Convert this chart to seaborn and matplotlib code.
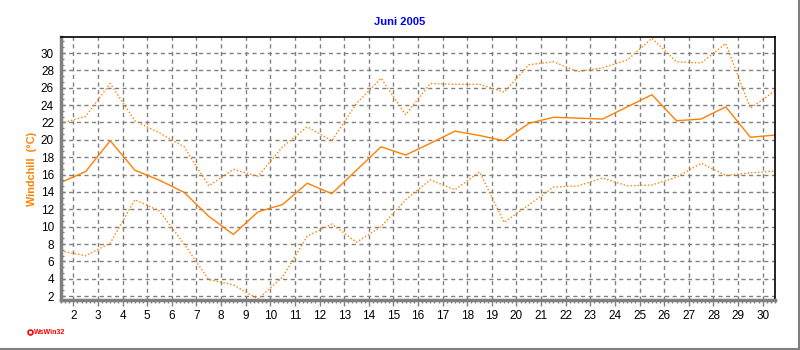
import matplotlib
matplotlib.use("Agg")
import matplotlib.pyplot as plt
import seaborn as sns
import pandas as pd
import numpy as np
from matplotlib.ticker import MultipleLocator, FixedLocator

days = list(range(1, 31))
temp_max = [21.9, 22.7, 26.5, 22.2, 20.8, 19.2, 14.7, 16.6, 15.8, 19.2,
            21.5, 19.9, 24.2, 27.1, 22.9, 26.5, 26.4, 26.4, 25.5, 28.65,
            29.0, 27.85, 28.3, 29.2, 31.7, 29.0, 28.85, 31.1, 23.65, 25.65]
temp_avg = [15.1, 16.35, 19.9, 16.5, 15.35, 13.95, 11.2, 9.1, 11.7, 12.55,
            15.0, 13.8, 16.5, 19.2, 18.25, 19.6, 21.0, 20.5, 19.9, 21.9,
            22.6, 22.5, 22.4, 23.8, 25.2, 22.2, 22.4, 23.8, 20.3, 20.55]
temp_min = [7.2, 6.65, 8.1, 13.1, 11.8, 8.0, 3.9, 3.3, 1.65, 4.2,
            8.9, 10.3, 8.2, 10.0, 13.1, 15.4, 14.25, 16.3, 10.5, 12.5,
            14.55, 14.7, 15.6, 14.7, 14.8, 15.7, 17.3, 15.9, 16.2, 16.4]
x_labels = list(range(2, 31))
y_labels = list(range(2, 31, 2))

sns.set_theme(style="white")
plt.rcParams['font.family'] = ['Liberation Sans', 'DejaVu Sans']

pos = [d + 0.5 for d in days]
df = pd.DataFrame({
    "pos": pos * 3,
    "value": temp_max + temp_avg + temp_min,
    "series": ["max"] * 30 + ["avg"] * 30 + ["min"] * 30,
})

fig = plt.figure(figsize=(8, 3.5), dpi=100)
ax = fig.add_axes([61/800, 1 - 300/350, (775 - 61)/800, (300 - 37)/350])

orange = "#FF8000"
sns.lineplot(data=df[df.series == "max"], x="pos", y="value", ax=ax,
             color=orange, lw=1.0, linestyle=(0, (1, 1.5)))
sns.lineplot(data=df[df.series == "avg"], x="pos", y="value", ax=ax,
             color=orange, lw=1.0)
sns.lineplot(data=df[df.series == "min"], x="pos", y="value", ax=ax,
             color=orange, lw=1.0, linestyle=(0, (1, 1.5)))

ax.set_xlim(1.5, 30.5)
ax.set_ylim(1.55, 31.85)
ax.xaxis.set_major_locator(FixedLocator(x_labels))
ax.set_xticklabels([str(v) for v in x_labels], fontsize=8.5, color="black")
ax.yaxis.set_major_locator(FixedLocator(y_labels))
ax.set_yticklabels([str(v) for v in y_labels], fontsize=8.5, color="black")
ax.xaxis.set_minor_locator(MultipleLocator(1/6))
ax.yaxis.set_minor_locator(MultipleLocator(2/3))

ax.grid(True, which="major", color="#808080", linestyle=(0, (3, 2.5)), lw=1.0)
ax.tick_params(axis="x", which="major", direction="out", length=4, width=1,
               color="#808080", pad=3.5, bottom=True)
ax.tick_params(axis="x", which="minor", direction="out", length=2.5, width=1,
               color="#808080", bottom=True)
ax.tick_params(axis="y", which="major", direction="in", length=3, width=1,
               color="#808080", pad=5, left=True)
ax.tick_params(axis="y", which="minor", direction="in", length=2, width=1,
               color="#808080", left=True)

for s in ["left", "bottom"]:
    ax.spines[s].set_color("#808080")
    ax.spines[s].set_linewidth(2.5)
for s in ["top", "right"]:
    ax.spines[s].set_color("black")
    ax.spines[s].set_linewidth(1.2)

ax.set_xlabel("")
ax.set_ylabel("Windchill  (°C)", color=orange, fontsize=7.8,
              fontweight="bold", labelpad=3)
fig.text(0.5, 1 - 22/350, "Juni 2005", color="#0000FF", fontsize=8,
         fontweight="bold", ha="center", va="center")

# WsWin32 mark
fig.text(34/800, 1 - 332/350, "WsWin32", color="#FF0000", fontsize=5,
         fontweight="bold", va="center", ha="left")
fig.add_artist(matplotlib.lines.Line2D([29.5/800], [1 - 331.5/350],
               transform=fig.transFigure, marker="o", markersize=3.5,
               markerfacecolor="white", markeredgecolor="#FF0000",
               markeredgewidth=1.2, linestyle="none"))

# outer frame lines (bottom and right)
fig.add_artist(matplotlib.lines.Line2D([0, 1], [1/350, 1/350],
               transform=fig.transFigure, color="#808080", lw=1.5))
fig.add_artist(matplotlib.lines.Line2D([799/800, 799/800], [0, 1],
               transform=fig.transFigure, color="#808080", lw=1.5))

fig.savefig("out.png", dpi=100, facecolor="white")
